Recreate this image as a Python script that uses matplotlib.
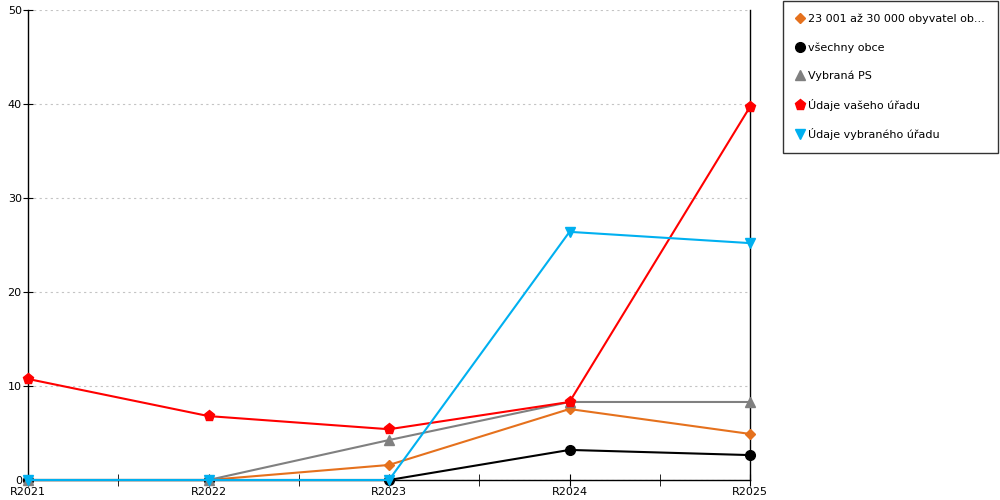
import numpy as np
import matplotlib.pyplot as plt

years = ['R2021', 'R2022', 'R2023', 'R2024', 'R2025']
obce_23_30 = [0, 0, 1.6, 7.55, 4.9]
vsechny_obce = [0, 0, 0, 3.2, 2.65]
vybrana_ps = [0, 0, 4.25, 8.3, 8.3]
vas_urad = [10.75, 6.8, 5.4, 8.3, 39.7]
vybrany_urad = [0, 0, 0, 26.4, 25.2]

series = [
    (obce_23_30, '23 001 až 30 000 obyvatel ob...', '#E5711D', 'D', 5.5),
    (vsechny_obce, 'všechny obce', '#000000', 'o', 7),
    (vybrana_ps, 'Vybraná PS', '#808080', '^', 7.5),
    (vas_urad, 'Údaje vašeho úřadu', '#FF0000', 'p', 8),
    (vybrany_urad, 'Údaje vybraného úřadu', '#00B0F0', 'v', 7.5),
]

plt.rcParams['font.family'] = ['DejaVu Sans']

fig = plt.figure(figsize=(10, 5), dpi=100)
ax = fig.add_axes([0.028, 0.04, 0.722, 0.94])

x = np.arange(len(years))
for vals, label, color, marker, ms in series:
    ax.plot(x, vals, color=color, marker=marker, markersize=ms, lw=1.5,
            label=label, clip_on=False, zorder=3)

ax.set_xlim(0, 4)
ax.set_ylim(0, 50)
ax.set_xticks(x)
ax.set_xticklabels(years, fontsize=8)
ax.set_xticks(np.arange(0.5, 4, 1), minor=True)
ax.tick_params(axis='x', which='both', direction='inout', length=8, pad=1)
ax.set_yticks([0, 10, 20, 30, 40, 50])
ax.tick_params(axis='y', direction='inout', length=7, labelsize=8, pad=1)
ax.grid(axis='y', color='#c4c4c4', ls=(0, (2, 3)), lw=0.8)
ax.spines['top'].set_visible(False)
for s in ['left', 'bottom', 'right']:
    ax.spines[s].set_color('black')
    ax.spines[s].set_linewidth(1)

leg = fig.legend(loc='upper left', bbox_to_anchor=(0.783, 0.998), fontsize=8,
                 frameon=True, fancybox=False, edgecolor='black',
                 labelspacing=1.6, handlelength=0.8, handletextpad=0.3,
                 borderpad=1.15, borderaxespad=0)
leg.get_frame().set_linewidth(1)
for h in leg.get_lines():
    h.set_linestyle('none')

fig.savefig('out.png')
